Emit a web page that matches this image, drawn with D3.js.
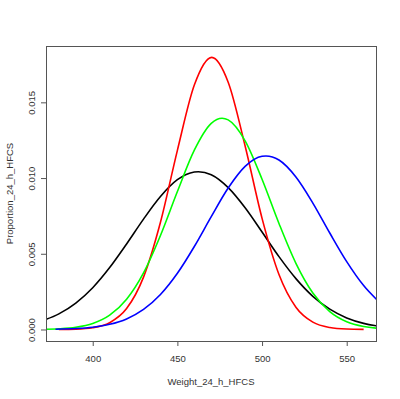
<!DOCTYPE html>
<meta charset="utf-8">
<script src="https://d3js.org/d3.v7.min.js"></script>
<style>
  body { margin: 0; background: #fff; }
  text { font-family: "Liberation Sans", Arial, sans-serif; fill: #333; }
</style>
<body>
<div id="canvas"></div>
<script>

    // x grid the curves were read on (weight)
    var xsRed   = [380, 390, 400, 410, 420, 430, 440, 450, 460, 470.3, 480, 490, 500, 510, 520, 530, 540, 550, 560];
    var red     = [0.000005, 0.000026, 0.000119, 0.000449, 0.00138, 0.00346, 0.00708, 0.01183, 0.01614, 0.01797, 0.01633, 0.01212, 0.00734, 0.00363, 0.00147, 0.000483, 0.00013, 0.000029, 0.000005];

    var xsGreen = [370, 380, 390, 400, 410, 420, 430, 440, 450, 460, 470, 476.4, 480, 490, 500, 510, 520, 530, 540, 550, 560, 570];
    var green   = [0.000014, 0.000048, 0.000146, 0.000394, 0.000942, 0.0020, 0.00374, 0.00621, 0.00911, 0.01184, 0.01361, 0.01395, 0.01384, 0.01246, 0.00992, 0.0070, 0.00437, 0.00241, 0.00118, 0.000509, 0.000195, 0.000066];

    var xsBlue  = [378, 390, 400, 410, 420, 430, 440, 450, 460, 470, 480, 490, 500, 502.3, 510, 520, 530, 540, 550, 560, 570];
    var blue    = [0.00002, 0.000063, 0.000152, 0.00034, 0.000699, 0.001325, 0.00231, 0.00371, 0.00548, 0.00745, 0.00934, 0.01077, 0.01144, 0.01146, 0.01119, 0.01007, 0.00835, 0.00637, 0.00448, 0.0029, 0.00173];

    var xsBlack = [370, 380, 390, 400, 410, 420, 430, 440, 450, 460, 462.4, 470, 480, 490, 500, 510, 520, 530, 540, 550, 560, 570];
    var black   = [0.000568, 0.00103, 0.001745, 0.00276, 0.00409, 0.00565, 0.00729, 0.00878, 0.00989, 0.0104, 0.01042, 0.01022, 0.00937, 0.00804, 0.00644, 0.00481, 0.00336, 0.00219, 0.00134, 0.000762, 0.000405, 0.000201];

    var xTicks = [400, 450, 500, 550];
    var yTicks = [0, 0.005, 0.010, 0.015];
    var xLabel = "Weight_24_h_HFCS";
    var yLabel = "Proportion_24_h_HFCS";

    var width = 400;
    var height = 399;
    var margin = {top: 46, right: 24, bottom: 58, left: 46};
    var w = width - margin.left - margin.right;
    var h = height - margin.top - margin.bottom;

    var svg = d3.select("#canvas")
        .append("svg")
        .attr("width", width)
        .attr("height", height);

    var g = svg.append("g")
        .attr("transform", "translate(" + margin.left + "," + margin.top + ")");

    // limites como o R deixou (com os 4% de folga)
    var x = d3.scaleLinear().domain([372.4, 567.3]).range([0, w]);
    var y = d3.scaleLinear().domain([-0.00076, 0.01872]).range([h, 0]);

    g.append("clipPath").attr("id", "clip")
        .append("rect").attr("width", w).attr("height", h);

    var line = d3.line()
        .x(function(d){ return x(d[0]); })
        .y(function(d){ return y(d[1]); })
        .curve(d3.curveMonotoneX);

    var series = [
        {xs: xsBlack, ys: black, color: "#000000"},
        {xs: xsRed,   ys: red,   color: "#ff0000"},
        {xs: xsGreen, ys: green, color: "#00ff00"},
        {xs: xsBlue,  ys: blue,  color: "#0000ff"}
    ];

    g.append("g").attr("clip-path", "url(#clip)")
        .selectAll("path")
        .data(series)
        .enter().append("path")
        .attr("d", function(s){ return line(s.xs.map(function(v, i){ return [v, s.ys[i]]; })); })
        .attr("fill", "none")
        .attr("stroke", function(s){ return s.color; })
        .attr("stroke-width", 1.6);

    // eixo x
    var xAxis = g.append("g")
        .attr("transform", "translate(0," + h + ")")
        .call(d3.axisBottom(x).tickValues(xTicks).tickSize(5).tickPadding(9).tickFormat(d3.format("d")));
    xAxis.select(".domain").remove();
    xAxis.selectAll("line").attr("stroke", "#555");
    xAxis.selectAll("text").style("font-size", "9.5px").attr("fill", "#333");

    // eixo y (labels girados como no R)
    var yAxis = g.append("g")
        .call(d3.axisLeft(y).tickValues(yTicks).tickSize(5).tickFormat(d3.format(".3f")));
    yAxis.select(".domain").remove();
    yAxis.selectAll("line").attr("stroke", "#555");
    yAxis.selectAll("text")
        .attr("transform", "rotate(-90)")
        .attr("x", 0)
        .attr("y", -11)
        .attr("dy", null)
        .attr("text-anchor", "middle")
        .style("font-size", "9.5px")
        .attr("fill", "#333");

    // caixa
    g.append("rect")
        .attr("x", 0.5).attr("y", 0.5)
        .attr("width", w).attr("height", h)
        .attr("fill", "none")
        .attr("stroke", "#555");

    svg.append("text")
        .attr("x", margin.left + w / 2)
        .attr("y", 385)
        .attr("text-anchor", "middle")
        .style("font-size", "9.5px")
        .text(xLabel);

    svg.append("text")
        .attr("transform", "translate(12.5," + (margin.top + h / 2) + ") rotate(-90)")
        .attr("text-anchor", "middle")
        .style("font-size", "9.5px")
        .text(yLabel);

</script>
</body>
